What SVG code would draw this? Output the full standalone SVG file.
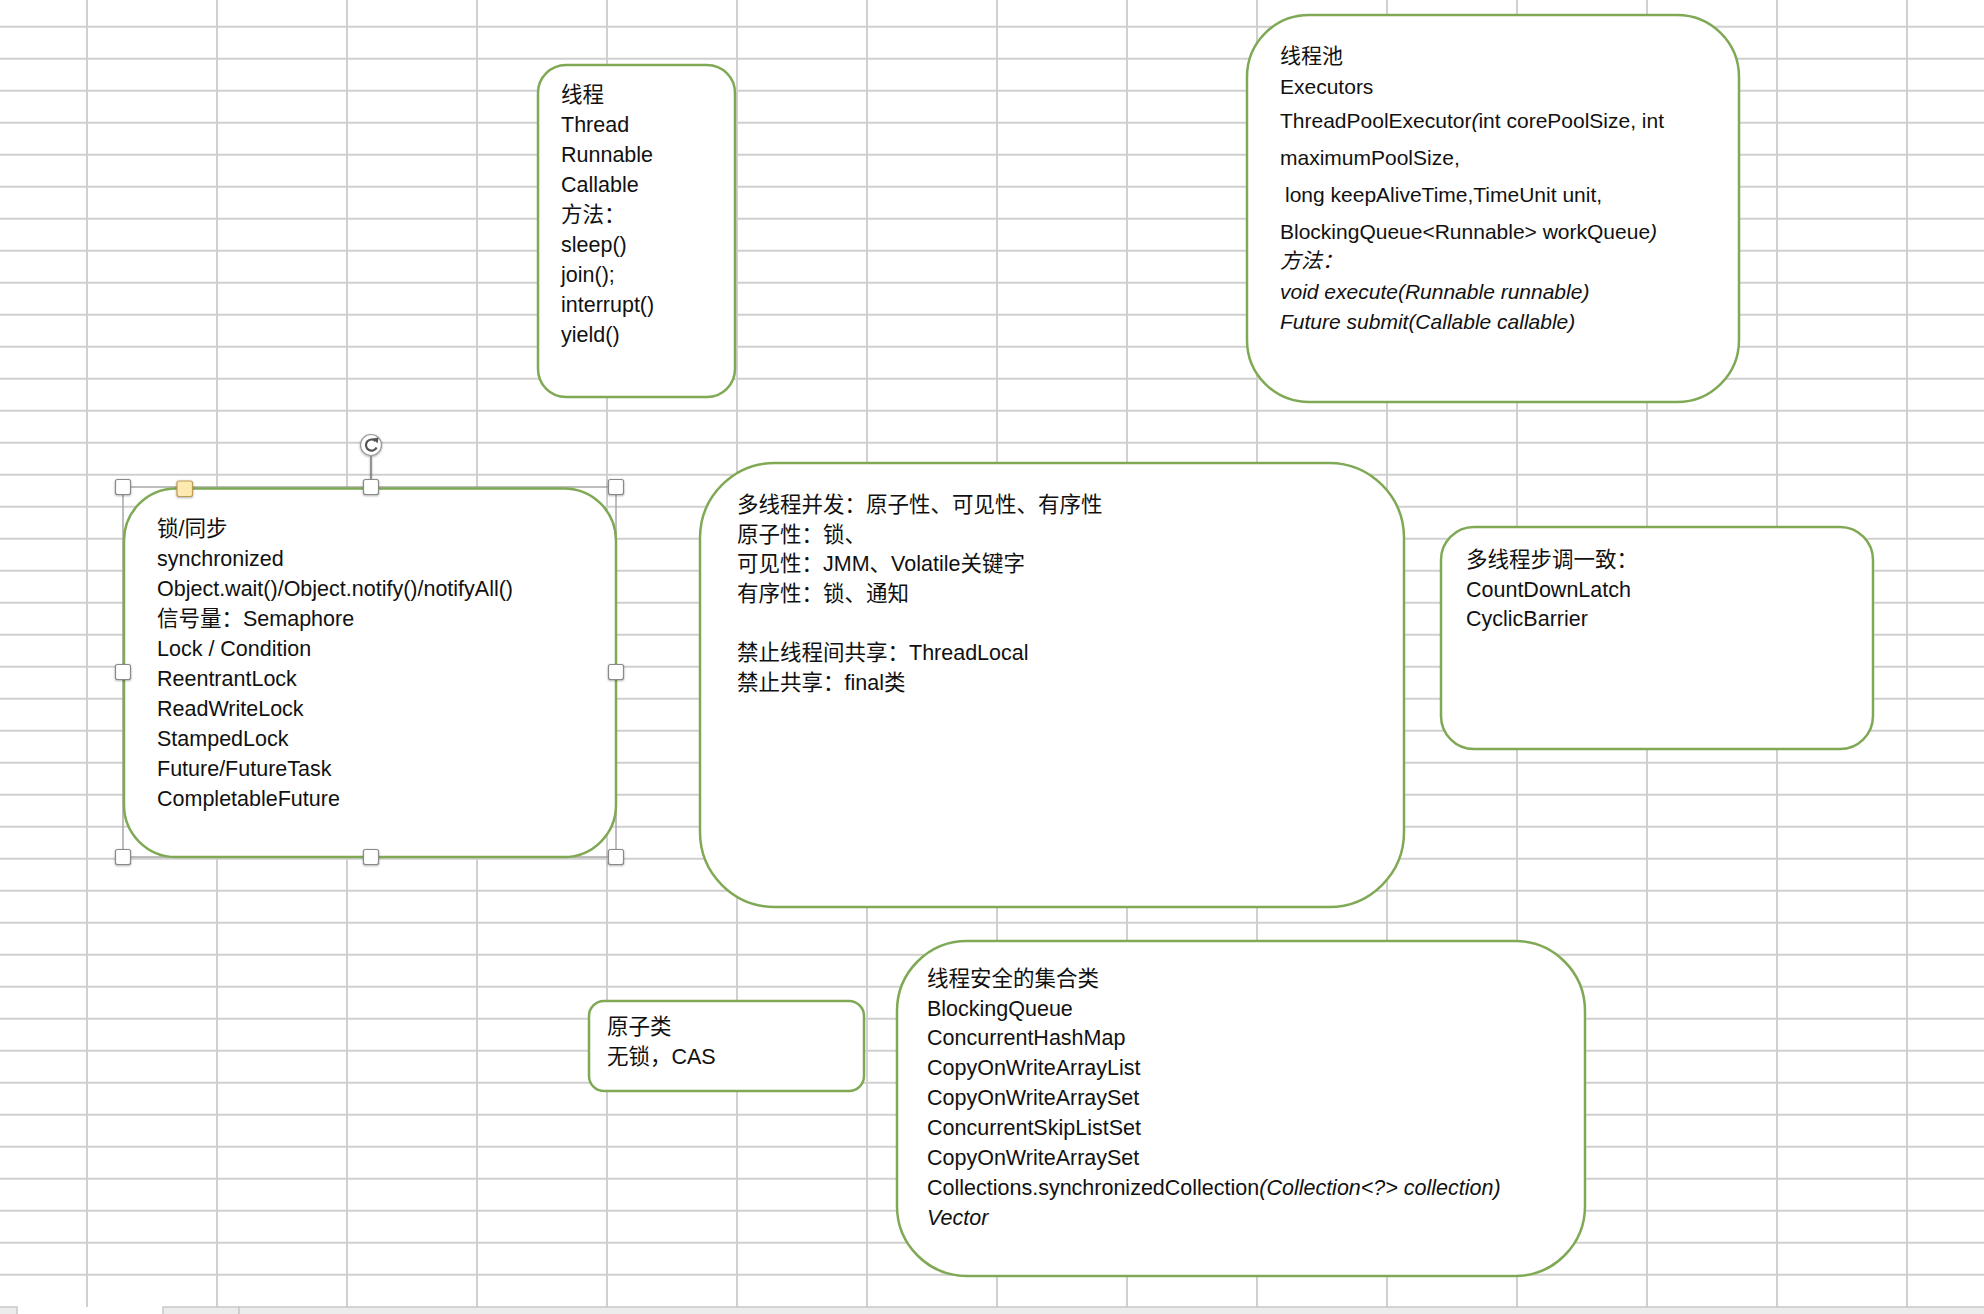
<svg xmlns="http://www.w3.org/2000/svg" width="1984" height="1314" viewBox="0 0 1984 1314">
<defs>
<style>
.grid{stroke:#d0d0d0;stroke-width:2;fill:none}
.box{fill:#fff;stroke:#7fa955;stroke-width:2.5}
.t{font-family:"Liberation Sans","Noto Sans CJK SC",sans-serif;font-size:21.5px;fill:#111}
.s{font-size:21px}
.i{font-style:italic}
.h{fill:#fff;stroke:#8a8a8a;stroke-width:1.2}
.tab{fill:#ececec;stroke:#c8c8c8;stroke-width:1.5}
</style>
<filter id="sh" x="-50%" y="-50%" width="200%" height="200%">
<feDropShadow dx="0" dy="0.8" stdDeviation="0.8" flood-color="#000" flood-opacity="0.35"/>
</filter>
</defs>
<rect x="0" y="0" width="1984" height="1314" fill="#fff"/>
<g id="grid">
<path class="grid" d="M87 0V1307M217 0V1307M347 0V1307M477 0V1307M607 0V1307M737 0V1307M867 0V1307M997 0V1307M1127 0V1307M1257 0V1307M1387 0V1307M1517 0V1307M1647 0V1307M1777 0V1307M1907 0V1307"/>
<path class="grid" d="M0 26.7H1984M0 58.7H1984M0 90.7H1984M0 122.7H1984M0 154.7H1984M0 186.7H1984M0 218.7H1984M0 250.7H1984M0 282.7H1984M0 314.7H1984M0 346.7H1984M0 378.7H1984M0 410.7H1984M0 442.7H1984M0 474.7H1984M0 506.7H1984M0 538.7H1984M0 570.7H1984M0 602.7H1984M0 634.7H1984M0 666.7H1984M0 698.7H1984M0 730.7H1984M0 762.7H1984M0 794.7H1984M0 826.7H1984M0 858.7H1984M0 890.7H1984M0 922.7H1984M0 954.7H1984M0 986.7H1984M0 1018.7H1984M0 1050.7H1984M0 1082.7H1984M0 1114.7H1984M0 1146.7H1984M0 1178.7H1984M0 1210.7H1984M0 1242.7H1984M0 1274.7H1984"/>
</g>
<g id="sheet-tabs">
<rect class="tab" x="-2" y="1307" width="19" height="10"/>
<rect class="tab" x="163" y="1307" width="76" height="10"/>
<rect class="tab" x="239" y="1307" width="1750" height="10"/>
</g>
<g id="connectors"></g>

<g id="node-thread">
<rect class="box" x="538" y="65" width="197" height="332" rx="28"/>
<text class="t" x="561" y="102">线程</text>
<text class="t" x="561" y="132">Thread</text>
<text class="t" x="561" y="162">Runnable</text>
<text class="t" x="561" y="192">Callable</text>
<text class="t" x="561" y="222">方法：</text>
<text class="t" x="561" y="252">sleep()</text>
<text class="t" x="561" y="282">join();</text>
<text class="t" x="561" y="312">interrupt()</text>
<text class="t" x="561" y="342">yield()</text>
</g>

<g id="node-threadpool">
<rect class="box" x="1247" y="15" width="492" height="387" rx="62"/>
<text class="t s" x="1280" y="63">线程池</text>
<text class="t s" x="1280" y="94">Executors</text>
<text class="t s" x="1280" y="128">ThreadPoolExecutor<tspan class="i">(</tspan>int corePoolSize, int</text>
<text class="t s" x="1280" y="165">maximumPoolSize,</text>
<text class="t s" x="1285" y="202">long keepAliveTime,TimeUnit unit,</text>
<text class="t s" x="1280" y="239">BlockingQueue&lt;Runnable&gt; workQueue<tspan class="i">)</tspan></text>
<text class="t s i" x="1280" y="268">方法：</text>
<text class="t s i" x="1280" y="299">void execute(Runnable runnable)</text>
<text class="t s i" x="1280" y="329">Future submit(Callable callable)</text>
</g>

<g id="node-lock">
<rect x="123" y="487" width="493" height="370" fill="none" stroke="#a8a8a8" stroke-width="1.5"/>
<rect class="box" x="124" y="488.5" width="492" height="368.5" rx="52"/>
<text class="t" x="157" y="536">锁/同步</text>
<text class="t" x="157" y="566">synchronized</text>
<text class="t" x="157" y="596">Object.wait()/Object.notify()/notifyAll()</text>
<text class="t" x="157" y="626">信号量：Semaphore</text>
<text class="t" x="157" y="656">Lock / Condition</text>
<text class="t" x="157" y="686">ReentrantLock</text>
<text class="t" x="157" y="716">ReadWriteLock</text>
<text class="t" x="157" y="746">StampedLock</text>
<text class="t" x="157" y="776">Future/FutureTask</text>
<text class="t" x="157" y="806">CompletableFuture</text>
<g id="selection-handles" filter="url(#sh)">
<line x1="371" y1="455.5" x2="371" y2="480" stroke="#7a7a7a" stroke-width="1.5"/>
<circle cx="371" cy="445" r="10.5" fill="#fff" stroke="#9a9a9a" stroke-width="1.2"/>
<path d="M375.6 441.2A5.6 5.6 0 1 0 376.6 447.5" fill="none" stroke="#555" stroke-width="2.2"/>
<polygon points="373,438.6 378.6,437.6 377.6,443.6" fill="#555"/>
<rect class="h" x="115.5" y="479.5" width="15" height="15" rx="2"/>
<rect class="h" x="363.5" y="479.5" width="15" height="15" rx="2"/>
<rect class="h" x="608.5" y="479.5" width="15" height="15" rx="2"/>
<rect class="h" x="115.5" y="664.5" width="15" height="15" rx="2"/>
<rect class="h" x="608.5" y="664.5" width="15" height="15" rx="2"/>
<rect class="h" x="115.5" y="849.5" width="15" height="15" rx="2"/>
<rect class="h" x="363.5" y="849.5" width="15" height="15" rx="2"/>
<rect class="h" x="608.5" y="849.5" width="15" height="15" rx="2"/>
<rect x="177" y="481" width="15.5" height="15.5" rx="2" fill="#fdeab0" stroke="#c09a55" stroke-width="1.2"/>
</g>
</g>

<g id="node-concurrency">
<rect class="box" x="700" y="463" width="704" height="444" rx="75"/>
<text class="t" x="737" y="512">多线程并发：原子性、可见性、有序性</text>
<text class="t" x="737" y="542">原子性：锁、</text>
<text class="t" x="737" y="571">可见性：JMM、Volatile关键字</text>
<text class="t" x="737" y="601">有序性：锁、通知</text>
<text class="t" x="737" y="660">禁止线程间共享：ThreadLocal</text>
<text class="t" x="737" y="690">禁止共享：final类</text>
</g>

<g id="node-sync-tools">
<rect class="box" x="1441" y="527" width="432" height="222" rx="33"/>
<text class="t" x="1466" y="567">多线程步调一致：</text>
<text class="t" x="1466" y="597">CountDownLatch</text>
<text class="t" x="1466" y="626">CyclicBarrier</text>
</g>

<g id="node-atomic">
<rect class="box" x="589" y="1001" width="275" height="90" rx="15"/>
<text class="t" x="607" y="1034">原子类</text>
<text class="t" x="607" y="1064">无锁，CAS</text>
</g>

<g id="node-collections">
<rect class="box" x="897" y="941" width="688" height="335" rx="70"/>
<text class="t" x="927" y="986">线程安全的集合类</text>
<text class="t" x="927" y="1016">BlockingQueue</text>
<text class="t" x="927" y="1045">ConcurrentHashMap</text>
<text class="t" x="927" y="1075">CopyOnWriteArrayList</text>
<text class="t" x="927" y="1105">CopyOnWriteArraySet</text>
<text class="t" x="927" y="1135">ConcurrentSkipListSet</text>
<text class="t" x="927" y="1165">CopyOnWriteArraySet</text>
<text class="t" x="927" y="1195">Collections.synchronizedCollection<tspan class="i">(Collection&lt;?&gt; collection)</tspan></text>
<text class="t i" x="927" y="1225">Vector</text>
</g>
</svg>
